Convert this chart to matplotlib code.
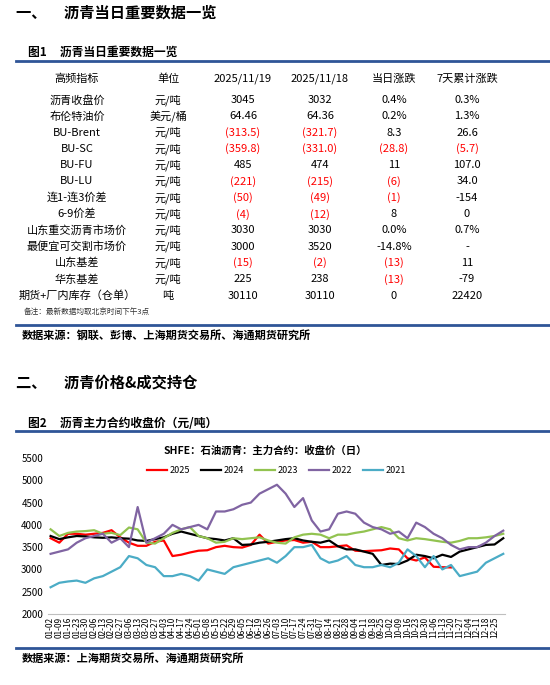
import matplotlib
matplotlib.use("Agg")
import matplotlib.pyplot as plt
import pandas as pd

plt.rcParams['font.family'] = ['Noto Sans CJK SC', 'DejaVu Sans']

headers = ["高频指标", "单位", "2025/11/19", "2025/11/18", "当日涨跌", "7天累计涨跌"]
indicators = ["沥青收盘价", "布伦特油价", "BU-Brent", "BU-SC", "BU-FU", "BU-LU", "连1-连3价差", "6-9价差",
              "山东重交沥青市场价", "最便宜可交割市场价", "山东基差", "华东基差", "期货+厂内库存（仓单）"]
units = ["元/吨", "美元/桶", "元/吨", "元/吨", "元/吨", "元/吨", "元/吨", "元/吨", "元/吨", "元/吨", "元/吨", "元/吨", "吨"]
col_1119 = ["3045", "64.46", "(313.5)", "(359.8)", "485", "(221)", "(50)", "(4)", "3030", "3000", "(15)", "225", "30110"]
col_1118 = ["3032", "64.36", "(321.7)", "(331.0)", "474", "(215)", "(49)", "(12)", "3030", "3520", "(2)", "238", "30110"]
col_day = ["0.4%", "0.2%", "8.3", "(28.8)", "11", "(6)", "(1)", "8", "0.0%", "-14.8%", "(13)", "(13)", "0"]
col_7d = ["0.3%", "1.3%", "26.6", "(5.7)", "107.0", "34.0", "-154", "0", "0.7%", "-", "11", "-79", "22420"]

s2025 = [3700,3600,3800,3800,3780,3800,3820,3880,3720,3600,3530,3530,3620,3650,3300,3330,3380,3420,3430,3500,
         3530,3500,3490,3550,3780,3580,3620,3650,3660,3600,3620,3500,3500,3520,3540,3420,3410,3420,3430,3470,
         3450,3250,3200,3270,3060,3050,3045]
s2024 = [3750,3680,3720,3750,3740,3720,3710,3720,3700,3690,3650,3640,3680,3720,3800,3850,3800,3750,3700,3680,
         3650,3700,3550,3560,3600,3620,3650,3680,3700,3650,3620,3600,3650,3520,3450,3450,3400,3350,3100,
         3130,3120,3200,3330,3300,3250,3330,3280,3400,3450,3500,3550,3560,3700]
s2023 = [3900,3750,3820,3850,3860,3880,3800,3820,3770,3940,3900,3600,3580,3700,3820,3900,3950,3750,3700,3600,
         3620,3700,3680,3700,3720,3650,3600,3580,3720,3780,3800,3780,3700,3780,3780,3820,3850,3900,3950,
         3900,3700,3650,3700,3680,3650,3620,3600,3640,3700,3700,3720,3750,3800]
s2022 = [3350,3400,3450,3600,3700,3750,3800,3600,3700,3500,4400,3600,3700,3800,4000,3900,3950,4000,3900,4300,
         4300,4350,4450,4500,4700,4800,4900,4700,4400,4600,4100,3850,3900,4250,4300,4250,4050,3950,3900,3800,
         3850,3700,4050,3950,3800,3700,3550,3450,3500,3500,3600,3750,3870]
s2021 = [2600,2700,2730,2750,2700,2800,2850,2950,3050,3300,3250,3100,3050,2850,2850,2900,2850,2750,3000,2950,
         2900,3050,3100,3150,3200,3250,3150,3300,3500,3500,3550,3250,3150,3200,3300,3100,3050,3050,3100,3050,
         3150,3450,3300,3050,3300,3000,3100,2850,2900,2950,3150,3250,3350]
tick_labels = [d.strftime("%m-%d") for d in pd.date_range("2025-01-02", "2025-12-25", freq="7D")]

W, H = 550, 685
fig = plt.figure(figsize=(5.5, 6.85), dpi=100)
blue = "#2F5597"
def T(x, y, s, **kw):
    fig.text(x / W, 1 - y / H, s, **kw)
def line(y, lw=2):
    fig.add_artist(plt.Line2D([16 / W, 1], [1 - y / H] * 2, color=blue, lw=lw))

T(16, 13, "一、     沥青当日重要数据一览", fontsize=11, fontweight='bold', va='center')
T(28, 52, "图1     沥青当日重要数据一览", fontsize=8.5, fontweight='bold', va='center')
line(61)
xs = [77, 168, 243, 320, 394, 467]
for x, h in zip(xs, headers):
    T(x, 79, h, fontsize=8, ha='center', va='center')
cols = [indicators, units, col_1119, col_1118, col_day, col_7d]
for i in range(len(indicators)):
    y = 100 + i * 16.3
    for j, (x, c) in enumerate(zip(xs, cols)):
        v = c[i]
        color = 'red' if (j >= 2 and v.startswith('(')) else 'black'
        T(x, y, v, fontsize=8, ha='center', va='center', color=color)
T(24, 312, "备注：最新数据均取北京时间下午3点", fontsize=5.5, style='italic', va='center', color='#333333')
line(325)
T(22, 335, "数据来源：钢联、彭博、上海期货交易所、海通期货研究所", fontsize=8, fontweight='bold', va='center')
T(16, 383, "二、     沥青价格&成交持仓", fontsize=11, fontweight='bold', va='center')
T(28, 423, "图2     沥青主力合约收盘价（元/吨）", fontsize=8.5, fontweight='bold', va='center')
line(431)
T(265, 451, "SHFE：石油沥青：主力合约：收盘价（日）", fontsize=7.5, fontweight='bold', ha='center', va='center')
line(648)
T(22, 658, "数据来源：上海期货交易所、海通期货研究所", fontsize=8, fontweight='bold', va='center')

ax = fig.add_axes([48 / W, 1 - 614 / H, 457 / W, 156 / H])
series = [("2025", s2025, "#FF0000"), ("2024", s2024, "#000000"), ("2023", s2023, "#92C350"),
          ("2022", s2022, "#8064A2"), ("2021", s2021, "#4BACC6")]
for name, s, c in series:
    ax.plot(range(len(s)), s, color=c, lw=1.6, label=name)
ax.set_ylim(2000, 5500)
ax.set_yticks(range(2000, 5501, 500))
ax.set_xlim(-0.3, 52.2)
ax.set_xticks(range(len(tick_labels)))
ax.set_xticklabels(tick_labels, rotation=90, fontsize=6)
ax.tick_params(axis='y', labelsize=7, length=0)
ax.tick_params(axis='x', length=0, pad=2)
for sp in ['top', 'right', 'left']:
    ax.spines[sp].set_visible(False)
ax.spines['bottom'].set_color('#BFBFBF')
ax.legend(loc='upper center', bbox_to_anchor=(0.5, 1.0), ncol=5, frameon=False, fontsize=6.5,
          handlelength=2.2, columnspacing=1.2, handletextpad=0.3)
fig.savefig("out.png", dpi=100)
